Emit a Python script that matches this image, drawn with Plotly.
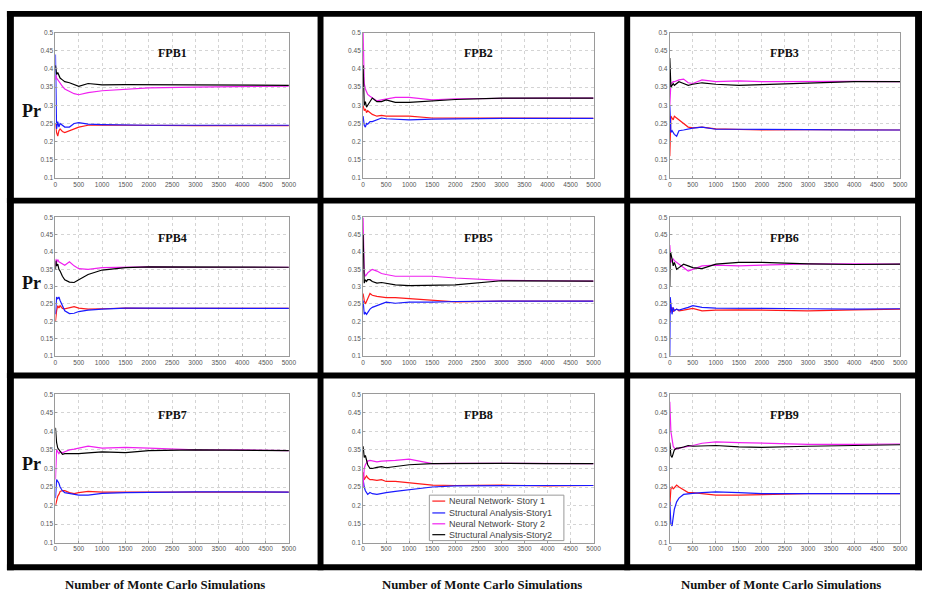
import plotly.graph_objects as go

# ---------------- data ----------------
SIMULATIONS = [1, 10, 25, 50, 75, 100, 150, 200, 300, 400, 500, 700, 1000, 1500, 2000, 3000, 4000, 5000]

PANELS = ["FPB1", "FPB2", "FPB3", "FPB4", "FPB5", "FPB6", "FPB7", "FPB8", "FPB9"]
SERIES_NAMES = ["Neural Network- Story 1", "Structural Analysis-Story1",
                "Neural Network- Story 2", "Structural Analysis-Story2"]

X_TICKS = [0, 500, 1000, 1500, 2000, 2500, 3000, 3500, 4000, 4500, 5000]
X_TICK_LABELS = ["0", "500", "1000", "1500", "2000", "2500", "3000", "3500", "4000", "4500", "5000"]
Y_TICKS = [0.1, 0.15, 0.2, 0.25, 0.3, 0.35, 0.4, 0.45, 0.5]
Y_TICK_LABELS = ["0.1", "0.15", "0.2", "0.25", "0.3", "0.35", "0.4", "0.45", "0.5"]

X_LABEL = "Number of Monte Carlo Simulations"
Y_LABEL = "Pr"

# FPB1
FPB1_NN1 = [0.25, 0.24, 0.225, 0.215, 0.23, 0.235, 0.228, 0.225, 0.23, 0.235, 0.24, 0.245, 0.246, 0.245, 0.244, 0.244, 0.244, 0.244]
FPB1_SA1 = [0.44, 0.25, 0.235, 0.255, 0.24, 0.25, 0.245, 0.24, 0.24, 0.25, 0.252, 0.248, 0.247, 0.245, 0.245, 0.245, 0.245, 0.245]
FPB1_NN2 = [0.37, 0.384, 0.375, 0.37, 0.366, 0.36, 0.352, 0.345, 0.338, 0.332, 0.329, 0.335, 0.34, 0.343, 0.348, 0.35, 0.352, 0.353]
FPB1_SA2 = [0.41, 0.40, 0.385, 0.39, 0.38, 0.375, 0.37, 0.365, 0.362, 0.357, 0.352, 0.36, 0.356, 0.357, 0.357, 0.357, 0.355, 0.355]
# FPB2
FPB2_NN1 = [0.30, 0.29, 0.285, 0.29, 0.28, 0.285, 0.28, 0.275, 0.27, 0.272, 0.27, 0.27, 0.27, 0.265, 0.265, 0.266, 0.265, 0.264]
FPB2_SA1 = [0.27, 0.26, 0.245, 0.24, 0.25, 0.248, 0.255, 0.255, 0.26, 0.265, 0.263, 0.262, 0.26, 0.262, 0.263, 0.264, 0.264, 0.264]
FPB2_NN2 = [0.50, 0.42, 0.36, 0.345, 0.335, 0.33, 0.325, 0.32, 0.312, 0.315, 0.318, 0.322, 0.322, 0.315, 0.318, 0.32, 0.32, 0.32]
FPB2_SA2 = [0.41, 0.33, 0.30, 0.31, 0.295, 0.30, 0.31, 0.32, 0.31, 0.31, 0.315, 0.308, 0.308, 0.312, 0.316, 0.32, 0.32, 0.32]
# FPB3
FPB3_NN1 = [0.16, 0.26, 0.27, 0.265, 0.26, 0.27, 0.265, 0.258, 0.248, 0.24, 0.238, 0.24, 0.235, 0.233, 0.232, 0.233, 0.232, 0.232]
FPB3_SA1 = [0.30, 0.25, 0.225, 0.23, 0.225, 0.22, 0.215, 0.23, 0.232, 0.235, 0.237, 0.24, 0.234, 0.234, 0.233, 0.233, 0.232, 0.232]
FPB3_NN2 = [0.30, 0.34, 0.36, 0.362, 0.365, 0.365, 0.368, 0.37, 0.372, 0.362, 0.36, 0.37, 0.365, 0.367, 0.365, 0.366, 0.366, 0.365]
FPB3_SA2 = [0.43, 0.38, 0.35, 0.355, 0.36, 0.355, 0.36, 0.365, 0.36, 0.355, 0.358, 0.362, 0.358, 0.355, 0.357, 0.362, 0.365, 0.365]
# FPB4
FPB4_NN1 = [0.20, 0.215, 0.23, 0.245, 0.238, 0.245, 0.237, 0.236, 0.24, 0.242, 0.238, 0.235, 0.236, 0.238, 0.237, 0.237, 0.237, 0.237]
FPB4_SA1 = [0.22, 0.26, 0.27, 0.265, 0.27, 0.26, 0.245, 0.23, 0.222, 0.223, 0.228, 0.232, 0.235, 0.238, 0.238, 0.238, 0.237, 0.237]
FPB4_NN2 = [0.36, 0.38, 0.37, 0.378, 0.372, 0.37, 0.365, 0.362, 0.372, 0.36, 0.352, 0.35, 0.355, 0.357, 0.357, 0.356, 0.356, 0.356]
FPB4_SA2 = [0.35, 0.375, 0.36, 0.365, 0.35, 0.345, 0.33, 0.32, 0.313, 0.312, 0.32, 0.335, 0.348, 0.355, 0.357, 0.356, 0.356, 0.356]
# FPB5
FPB5_NN1 = [0.28, 0.27, 0.26, 0.25, 0.26, 0.265, 0.28, 0.275, 0.272, 0.27, 0.268, 0.268, 0.265, 0.26, 0.256, 0.258, 0.258, 0.258]
FPB5_SA1 = [0.26, 0.23, 0.22, 0.225, 0.22, 0.225, 0.235, 0.24, 0.245, 0.25, 0.255, 0.252, 0.255, 0.255, 0.257, 0.258, 0.258, 0.258]
FPB5_NN2 = [0.50, 0.40, 0.34, 0.33, 0.335, 0.34, 0.345, 0.35, 0.345, 0.338, 0.335, 0.33, 0.33, 0.33, 0.325, 0.318, 0.317, 0.316]
FPB5_SA2 = [0.45, 0.33, 0.31, 0.32, 0.315, 0.32, 0.32, 0.315, 0.31, 0.312, 0.31, 0.305, 0.303, 0.303, 0.305, 0.317, 0.317, 0.316]
# FPB6
FPB6_NN1 = [0.25, 0.225, 0.235, 0.24, 0.228, 0.232, 0.235, 0.23, 0.232, 0.235, 0.237, 0.23, 0.232, 0.233, 0.232, 0.23, 0.233, 0.235]
FPB6_SA1 = [0.10, 0.27, 0.25, 0.22, 0.24, 0.23, 0.235, 0.232, 0.235, 0.24, 0.245, 0.24, 0.238, 0.237, 0.236, 0.236, 0.235, 0.236]
FPB6_NN2 = [0.42, 0.39, 0.37, 0.375, 0.38, 0.375, 0.37, 0.365, 0.355, 0.345, 0.35, 0.36, 0.362, 0.36, 0.362, 0.366, 0.366, 0.365]
FPB6_SA2 = [0.30, 0.40, 0.395, 0.38, 0.36, 0.37, 0.35, 0.355, 0.365, 0.36, 0.355, 0.352, 0.365, 0.37, 0.37, 0.366, 0.364, 0.365]
# FPB7
FPB7_NN1 = [0.20, 0.205, 0.22, 0.225, 0.23, 0.238, 0.24, 0.24, 0.235, 0.232, 0.235, 0.238, 0.236, 0.236, 0.237, 0.238, 0.237, 0.236]
FPB7_SA1 = [0.22, 0.26, 0.27, 0.265, 0.26, 0.25, 0.24, 0.235, 0.232, 0.23, 0.228, 0.228, 0.233, 0.235, 0.236, 0.237, 0.237, 0.236]
FPB7_NN2 = [0.27, 0.33, 0.35, 0.345, 0.34, 0.345, 0.342, 0.345, 0.35, 0.352, 0.355, 0.36, 0.355, 0.357, 0.355, 0.35, 0.35, 0.348]
FPB7_SA2 = [0.41, 0.39, 0.37, 0.355, 0.35, 0.345, 0.338, 0.34, 0.34, 0.338, 0.34, 0.342, 0.345, 0.343, 0.348, 0.35, 0.348, 0.348]
# FPB8
FPB8_NN1 = [0.29, 0.28, 0.27, 0.275, 0.28, 0.275, 0.27, 0.27, 0.268, 0.27, 0.265, 0.265, 0.262, 0.255, 0.254, 0.255, 0.253, 0.254]
FPB8_SA1 = [0.27, 0.26, 0.25, 0.24, 0.235, 0.23, 0.235, 0.232, 0.23, 0.233, 0.235, 0.238, 0.242, 0.25, 0.253, 0.254, 0.254, 0.254]
FPB8_NN2 = [0.25, 0.28, 0.30, 0.31, 0.315, 0.32, 0.322, 0.32, 0.318, 0.32, 0.32, 0.322, 0.325, 0.313, 0.314, 0.314, 0.313, 0.313]
FPB8_SA2 = [0.36, 0.34, 0.33, 0.335, 0.32, 0.31, 0.30, 0.30, 0.303, 0.305, 0.302, 0.305, 0.31, 0.313, 0.314, 0.314, 0.313, 0.313]
# FPB9
FPB9_NN1 = [0.20, 0.23, 0.245, 0.25, 0.245, 0.248, 0.255, 0.25, 0.242, 0.235, 0.235, 0.232, 0.228, 0.228, 0.23, 0.232, 0.232, 0.232]
FPB9_SA1 = [0.21, 0.17, 0.15, 0.145, 0.17, 0.19, 0.21, 0.22, 0.23, 0.232, 0.233, 0.235, 0.237, 0.235, 0.232, 0.232, 0.231, 0.232]
FPB9_NN2 = [0.48, 0.45, 0.40, 0.38, 0.36, 0.355, 0.352, 0.355, 0.358, 0.36, 0.362, 0.368, 0.372, 0.37, 0.368, 0.365, 0.365, 0.366]
FPB9_SA2 = [0.37, 0.34, 0.335, 0.33, 0.345, 0.35, 0.355, 0.355, 0.358, 0.362, 0.36, 0.36, 0.362, 0.358, 0.357, 0.36, 0.362, 0.364]

PANEL_DATA = {
    "FPB1": [FPB1_NN1, FPB1_SA1, FPB1_NN2, FPB1_SA2],
    "FPB2": [FPB2_NN1, FPB2_SA1, FPB2_NN2, FPB2_SA2],
    "FPB3": [FPB3_NN1, FPB3_SA1, FPB3_NN2, FPB3_SA2],
    "FPB4": [FPB4_NN1, FPB4_SA1, FPB4_NN2, FPB4_SA2],
    "FPB5": [FPB5_NN1, FPB5_SA1, FPB5_NN2, FPB5_SA2],
    "FPB6": [FPB6_NN1, FPB6_SA1, FPB6_NN2, FPB6_SA2],
    "FPB7": [FPB7_NN1, FPB7_SA1, FPB7_NN2, FPB7_SA2],
    "FPB8": [FPB8_NN1, FPB8_SA1, FPB8_NN2, FPB8_SA2],
    "FPB9": [FPB9_NN1, FPB9_SA1, FPB9_NN2, FPB9_SA2],
}

# ---------------- styles / layout ----------------
W, H = 930, 595
COLORS = ["#ff1a1a", "#1a1aff", "#f020f0", "#000000"]
SERIF = "Liberation Serif, Times New Roman, serif"
SANS = "Liberation Sans, Arial, sans-serif"

COL_X = [(54, 290), (365, 598), (675, 908)]     # plot area px (left, right)
ROW_Y = [(29, 176), (216, 356), (395, 545)]     # plot area px (top, bottom)
PR_Y = [108, 282, 465]
XLABEL_X = [165, 485, 787]
XLABEL_Y = 588
LEG_BOX = (432, 497, 568, 543)                  # x0, top, x1, bottom
LEG_ROWS = [503, 515, 526, 537]


def px_x(v):
    return v / W


def px_y(v):
    return 1 - v / H


fig = go.Figure()
layout = dict(width=W, height=H, margin=dict(l=0, r=0, t=0, b=0),
              paper_bgcolor="white", plot_bgcolor="white", showlegend=False)
annotations = []
shapes = []


def text(t, x, y, size, family=SERIF, color="#111111", xanchor="center"):
    annotations.append(dict(text=t, xref="paper", yref="paper", x=px_x(x), y=px_y(y),
                            xanchor=xanchor, yanchor="middle", showarrow=False,
                            font=dict(family=family, size=size, color=color)))


for i, panel in enumerate(PANELS):
    r, c = divmod(i, 3)
    n = "" if i == 0 else str(i + 1)
    xl, xr = COL_X[c]
    yt, yb = ROW_Y[r]
    axis_common = dict(showline=True, mirror=True, linecolor="#9a9a9a", linewidth=1,
                       showgrid=True, gridcolor="#d4d4d4", griddash="dot", gridwidth=1,
                       zeroline=False, ticks="inside", ticklen=2, tickcolor="#9a9a9a",
                       tickfont=dict(family=SANS, size=6.5, color="#555555"))
    layout["xaxis" + n] = dict(axis_common, domain=[px_x(xl), px_x(xr)], range=[0, 5000],
                               tickvals=X_TICKS, ticktext=X_TICK_LABELS, anchor="y" + n)
    layout["yaxis" + n] = dict(axis_common, domain=[px_y(yb), px_y(yt)], range=[0.1, 0.5],
                               tickvals=Y_TICKS, ticktext=Y_TICK_LABELS, anchor="x" + n)
    for s, vals in enumerate(PANEL_DATA[panel]):
        fig.add_trace(go.Scatter(x=SIMULATIONS, y=vals, mode="lines", name=SERIES_NAMES[s],
                                 line=dict(color=COLORS[s], width=1.2),
                                 xaxis="x" + n, yaxis="y" + n))
    text("<b>" + panel + "</b>", (xl + xr) / 2, yt + 21, 12)
    if c == 0:
        text("<b>" + Y_LABEL + "</b>", 30, PR_Y[r], 18)

for cx in XLABEL_X:
    text("<b>" + X_LABEL + "</b>", cx, XLABEL_Y, 12.8)

# thick black frame and dividers (px rectangles: x0, top, x1, bottom)
bars = [(5, 7, 12, 573), (923, 7, 930, 573), (5, 7, 930, 13), (5, 567, 930, 573),
        (319, 7, 325, 573), (629, 7, 635, 573), (5, 196, 930, 202), (5, 373, 930, 379)]
for x0, top, x1, bot in bars:
    shapes.append(dict(type="rect", xref="paper", yref="paper", x0=px_x(x0), x1=px_x(x1),
                       y0=px_y(bot), y1=px_y(top), fillcolor="black", line=dict(width=0)))

# legend box inside the FPB8 panel
lx0, ltop, lx1, lbot = LEG_BOX
shapes.append(dict(type="rect", xref="paper", yref="paper", layer="above",
                   x0=px_x(lx0), x1=px_x(lx1), y0=px_y(lbot), y1=px_y(ltop),
                   fillcolor="white", line=dict(color="#9a9a9a", width=1)))
for s, name in enumerate(SERIES_NAMES):
    ly = LEG_ROWS[s]
    shapes.append(dict(type="line", xref="paper", yref="paper", layer="above",
                       x0=px_x(lx0 + 3), x1=px_x(lx0 + 16), y0=px_y(ly), y1=px_y(ly),
                       line=dict(color=COLORS[s], width=1.2)))
    text(name, lx0 + 18, ly, 9, family=SANS, color="#444444", xanchor="left")

layout["annotations"] = annotations
layout["shapes"] = shapes
fig.update_layout(**layout)
fig.write_html("out.html", config={"displayModeBar": False},
               post_script="document.body.style.margin='0';document.body.style.overflow='hidden';")
